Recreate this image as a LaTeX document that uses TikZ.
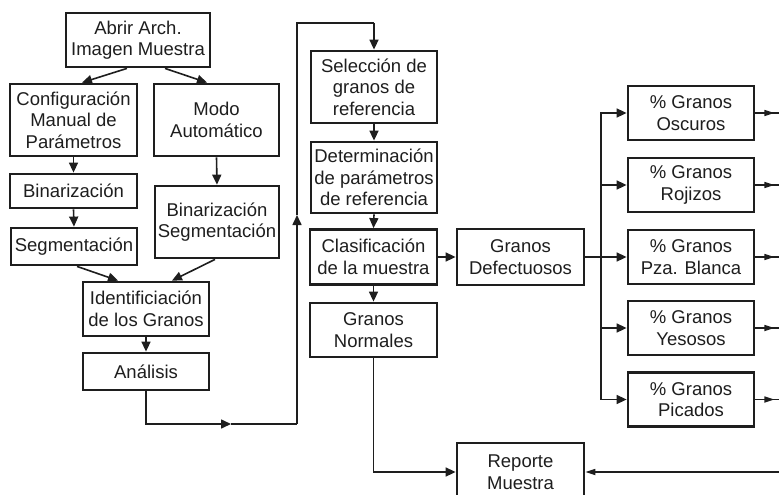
\documentclass[tikz,border=0pt]{standalone}
\usepackage{fontspec}
\setmainfont{Liberation Sans}
\usetikzlibrary{arrows.meta,calc}
\definecolor{ink}{HTML}{1E1E1E}
\tikzset{
  box/.style={draw=ink, line width=2.8pt, fill=white, text=ink, align=center, inner sep=0pt,
    font=\fontsize{18.5}{21.5}\selectfont},
  conn/.style={draw=ink, line width=1.6pt},
  arr/.style={conn, -{Triangle[length=10pt,width=9pt]}},
  sarr/.style={conn, -{Triangle[length=10pt,width=6pt]}}
}
\begin{document}
\begin{tikzpicture}[x=1pt,y=-1pt]
\useasboundingbox (0,0) rectangle (779,495);
\fill[white] (0,0) rectangle (779,495);
\clip (0,0) rectangle (779,495);

% left column
\node[box, minimum width=144, minimum height=54] (abrir) at (138,40) {Abrir Arch.\\Imagen Muestra};
\node[box, minimum width=127, minimum height=72] (config) at (73.5,120) {Configuración\\Manual de\\Parámetros};
\node[box, minimum width=125, minimum height=72] (modo) at (216.5,120) {Modo\\Automático};
\node[box, minimum width=127, minimum height=34] (bin) at (73.5,191) {Binarización};
\node[box, minimum width=126, minimum height=37] (seg) at (74,246.5) {Segmentación};
\node[box, minimum width=124, minimum height=72] (binseg) at (217,222) {Binarización\\Segmentación};
\node[box, minimum width=126, minimum height=54] (ident) at (146,309) {Identificiación\\de los Granos};
\node[box, minimum width=126, minimum height=37] (anal) at (146,371.5) {Análisis};

% middle column
\node[box, minimum width=126, minimum height=72] (selec) at (374,87) {Selección de\\granos de\\referencia};
\node[box, minimum width=126, minimum height=71] (deter) at (374,177.5) {Determinación\\de parámetros\\de referencia};
\node[box, minimum width=127, minimum height=55] (clasif) at (373.5,257) {Clasificación\\de la muestra};
\node[box, minimum width=127, minimum height=54] (normal) at (373.5,330) {Granos\\Normales};
\node[box, minimum width=127, minimum height=56] (defect) at (520.5,257) {Granos\\Defectuosos};
\node[box, minimum width=127, minimum height=58] (reporte) at (520.5,472) {Reporte\\Muestra};

% right column
\node[box, minimum width=126, minimum height=54] (osc) at (691,113) {\% Granos\\Oscuros};
\node[box, minimum width=126, minimum height=54] (roj) at (691,185) {\% Granos\\Rojizos};
\node[box, minimum width=126, minimum height=54] (pza) at (691,257) {\% Granos\\Pza. Blanca};
\node[box, minimum width=126, minimum height=54] (yes) at (691,328) {\% Granos\\Yesosos};
\node[box, minimum width=126, minimum height=54] (pic) at (691,399.5) {\% Granos\\Picados};

% left connectors
\draw[arr] ($(abrir.south)+(-11,0)$) -- ($(config.north)+(8.5,0)$);
\draw[arr] ($(abrir.south)+(27,0)$) -- ($(modo.north)+(-9.5,0)$);
\draw[arr] (config.south) -- (bin.north);
\draw[arr] (bin.south) -- (seg.north);
\draw[arr] (modo.south) -- (binseg.north);
\draw[arr] ($(seg.south)+(3,0)$) -- ($(ident.north)+(-28,0)$);
\draw[arr] ($(binseg.south)+(-2,0)$) -- ($(ident.north)+(26,0)$);
\draw[arr] (ident.south) -- (anal.north);

% loop to middle column
\coordinate (c1) at (146,424);
\coordinate (m1) at (231,424);
\coordinate (c2) at (297,424);
\coordinate (m2) at (297,215);
\coordinate (c3) at (297,23);
\coordinate (c4) at (374,23);
\draw[arr] (anal.south) |- (m1);
\draw[conn] (m1) -- (c2);
\draw[arr] (c2) -- (m2);
\draw[conn] (m2) -- (c3) -- (c4);
\draw[arr] (c4) -- (selec.north);

% middle connectors
\draw[arr] (selec.south) -- (deter.north);
\draw[arr] (deter.south) -- (clasif.north);
\draw[arr] (clasif.south) -- (normal.north);
\draw[arr] (clasif.east) -- (defect.west);

% branch
\coordinate (trunk) at (601,257);
\draw[conn] (defect.east) -- (trunk);
\foreach \b in {osc,roj,pza,yes,pic}{
  \draw[arr] (trunk) |- (\b.west);
  \draw[conn] (\b.east) -- ++(30,0);
  \draw[sarr] (\b.east) -- ++(19,0);
}

% report
\draw[arr] (normal.south) |- (reporte.west);
\coordinate (redge) at (785,472);
\draw[sarr] (redge) -- (reporte.east);
\end{tikzpicture}
\end{document}
